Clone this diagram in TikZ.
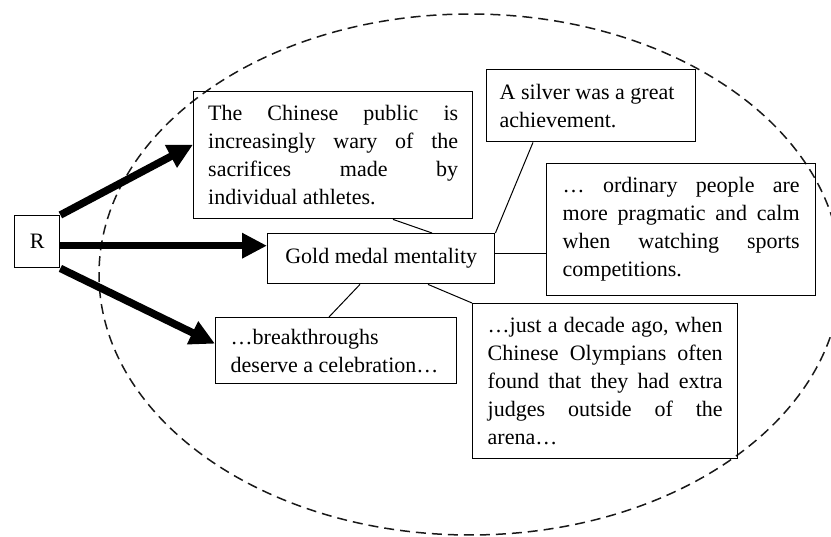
\documentclass[tikz,border=0pt]{standalone}
\usepackage{fontspec}
\setmainfont{Liberation Serif}
\usetikzlibrary{arrows.meta}
\newcommand{\jline}[2]{\makebox[#1][s]{\spaceskip=0pt\xspaceskip=0pt\relax #2}}
\begin{document}
\begin{tikzpicture}[x=1pt,y=-1pt,
  box/.style={draw, line width=1.4pt, anchor=north west, inner ysep=0pt,
    font=\fontsize{22pt}{28pt}\selectfont, align=justify},
  link/.style={line width=1pt},
  bigarrow/.style={line width=7.5pt, -{Triangle[length=25pt,width=24pt]}},
  ring/.style={dash pattern=on 10pt off 6pt, line width=1.5pt, black!90}]
\useasboundingbox (0,0) rectangle (831,537);
\clip (0,0) rectangle (831,537);
% dashed ellipse
\draw[ring] (470,274.5) ellipse [x radius=371, y radius=260.5];
% boxes
\node[box, minimum width=45pt, minimum height=52pt, inner xsep=0pt, align=center] (R) at (14,215) {R};
\node[box, minimum width=279pt, minimum height=127pt, inner xsep=14.5pt, text width=250pt] (chinese) at (193,91)
  {\jline{250pt}{The Chinese public is}\\\jline{250pt}{increasingly wary of the}\\\jline{250pt}{sacrifices made by}\\\mbox{individual athletes.}};
\node[box, minimum width=209pt, minimum height=72pt, inner xsep=13pt, text width=183pt] (silver) at (486,69)
  {\mbox{A silver was a great}\\\mbox{achievement.}};
\node[box, minimum width=227pt, minimum height=50pt, inner xsep=0pt, align=center] (gold) at (267,233)
  {Gold medal mentality};
\node[box, minimum width=269pt, minimum height=132pt, inner xsep=16pt, text width=237pt] (ordinary) at (546,163)
  {\jline{237pt}{… ordinary people are}\\\jline{237pt}{more pragmatic and calm}\\\jline{237pt}{when watching sports}\\\mbox{competitions.}};
\node[box, minimum width=241pt, minimum height=66pt, inner xsep=15pt, text width=211pt] (brk) at (215,317)
  {\mbox{…breakthroughs}\\\mbox{deserve a celebration…}};
\node[box, minimum width=265pt, minimum height=155pt, inner xsep=15pt, text width=235pt] (just) at (472,303)
  {\jline{235pt}{…just a decade ago, when}\\\jline{235pt}{Chinese Olympians often}\\\jline{235pt}{found that they had extra}\\\jline{235pt}{judges outside of the}\\\mbox{arena…}};
% thin connectors
\draw[link] ([xshift=200pt]chinese.south west) -- ([xshift=165pt]gold.north west);
\draw[link] ([xshift=47pt]silver.south west) -- (gold.north east);
\draw[link] ([yshift=5pt]gold.east) -- ([yshift=5pt]gold.east -| ordinary.west);
\draw[link] ([xshift=93pt]gold.south west) -- ([xshift=114pt]brk.north west);
\draw[link] ([xshift=161pt]gold.south west) -- (just.north west);
% thick arrows
\draw[bigarrow] (R.north east) -- ([yshift=10.5pt]chinese.west);
\draw[bigarrow] ([yshift=-4pt]R.east) -- ([yshift=-4pt]R.east -| gold.west);
\draw[bigarrow] (R.south east) -- ([yshift=7pt]brk.west);
\end{tikzpicture}
\end{document}
